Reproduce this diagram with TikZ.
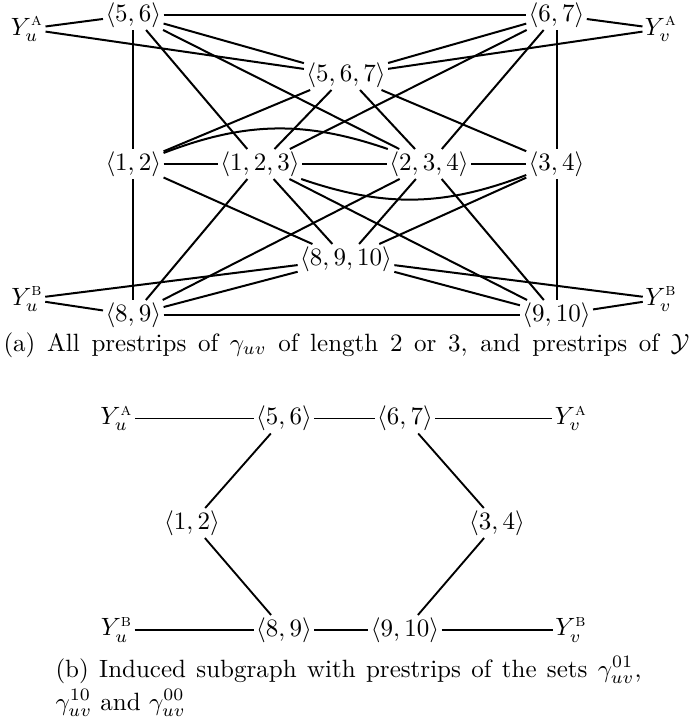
\documentclass[tikz,border=0pt]{standalone}
\usepackage{amsmath}
\begin{document}
\begin{tikzpicture}[x=0.4pt,y=-0.4pt,
  lab/.style={inner sep=1pt, outer sep=0pt},
  edgeA/.style={line width=0.8pt},
  edgeB/.style={line width=0.75pt}]
\useasboundingbox (0,0) rectangle (689,727);
% ---------- top graph (a)
\node[lab, anchor=base] (YuA) at (27,35) {$Y^{\textsc{a}}_u$};
\node[lab] (t56) at (133.3,15) {$\langle 5,6\rangle$};
\node[lab] (t67) at (556.5,15) {$\langle 6,7\rangle$};
\node[lab, anchor=base] (YvA) at (661,35) {$Y^{\textsc{a}}_v$};
\node[lab] (t567) at (346,75) {$\langle 5,6,7\rangle$};
\node[lab] (t12) at (133.3,164) {$\langle 1,2\rangle$};
\node[lab] (t123) at (260,164) {$\langle 1,2,3\rangle$};
\node[lab] (t234) at (429,164) {$\langle 2,3,4\rangle$};
\node[lab] (t34) at (556.5,164) {$\langle 3,4\rangle$};
\node[lab] (t8910) at (346,259) {$\langle 8,9,10\rangle$};
\node[lab, anchor=base] (YuB) at (27,305) {$Y^{\textsc{b}}_u$};
\node[lab] (t89) at (133.3,315) {$\langle 8,9\rangle$};
\node[lab] (t910) at (556.5,315) {$\langle 9,10\rangle$};
\node[lab, anchor=base] (YvB) at (661,305) {$Y^{\textsc{b}}_v$};
\begin{scope}[edgeA]
\draw (YuA) -- (t56);
\draw (YuA) -- (t567);
\draw (YvA) -- (t67);
\draw (YvA) -- (t567);
\draw (t56) -- (t67);
\draw (t56) -- (t567);
\draw (t56) -- (t12);
\draw (t56) -- (t123);
\draw (t56) -- (t234);
\draw (t67) -- (t567);
\draw (t67) -- (t34);
\draw (t67) -- (t234);
\draw (t67) -- (t123);
\draw (t567) -- (t12);
\draw (t567) -- (t123);
\draw (t567) -- (t234);
\draw (t567) -- (t34);
\draw (t12) -- (t123);
\draw (t123) -- (t234);
\draw (t234) -- (t34);
\draw (t12) to[bend left=20] (t234);
\draw (t123) to[bend right=20] (t34);
\draw (t12) -- (t89);
\draw (t12) -- (t8910);
\draw (t123) -- (t89);
\draw (t123) -- (t8910);
\draw (t123) -- (t910);
\draw (t234) -- (t89);
\draw (t234) -- (t8910);
\draw (t234) -- (t910);
\draw (t34) -- (t8910);
\draw (t34) -- (t910);
\draw (t8910) -- (t89);
\draw (t8910) -- (t910);
\draw (t8910) -- (YuB);
\draw (t8910) -- (YvB);
\draw (YuB) -- (t89);
\draw (t89) -- (t910);
\draw (t910) -- (YvB);
\end{scope}
\node[anchor=base west, inner sep=0pt] (capA) at (3,351)
  {\makebox[274.4pt][s]{(a) All prestrips of $\gamma_{uv}$ of length 2 or 3, and prestrips of $\mathcal{Y}$}};
% ---------- bottom graph (b)
\node[lab] (bYuA) at (116.5,418.5) {$Y^{\textsc{a}}_u$};
\node[lab] (b56) at (284,418.5) {$\langle 5,6\rangle$};
\node[lab] (b67) at (405,418.5) {$\langle 6,7\rangle$};
\node[lab] (bYvA) at (571,418.5) {$Y^{\textsc{a}}_v$};
\node[lab] (b12) at (192,523) {$\langle 1,2\rangle$};
\node[lab] (b34) at (497,523) {$\langle 3,4\rangle$};
\node[lab] (bYuB) at (116.5,630) {$Y^{\textsc{b}}_u$};
\node[lab] (b89) at (284,630) {$\langle 8,9\rangle$};
\node[lab] (b910) at (405,630) {$\langle 9,10\rangle$};
\node[lab] (bYvB) at (571,630) {$Y^{\textsc{b}}_v$};
\begin{scope}[edgeB]
\draw (bYuA) -- (b56);
\draw (b56) -- (b67);
\draw (b67) -- (bYvA);
\draw (b56) -- (b12);
\draw (b67) -- (b34);
\draw (b12) -- (b89);
\draw (b34) -- (b910);
\draw (bYuB) -- (b89);
\draw (b89) -- (b910);
\draw (b910) -- (bYvB);
\end{scope}
\node[anchor=base west, inner sep=0pt, align=left] (capB) at (55,710)
  {\makebox[234.4pt][s]{(b) Induced subgraph with prestrips of the sets $\gamma^{01}_{uv}$,}\\[1.2pt]
   $\gamma^{10}_{uv}$ and $\gamma^{00}_{uv}$};
\end{tikzpicture}
\end{document}
